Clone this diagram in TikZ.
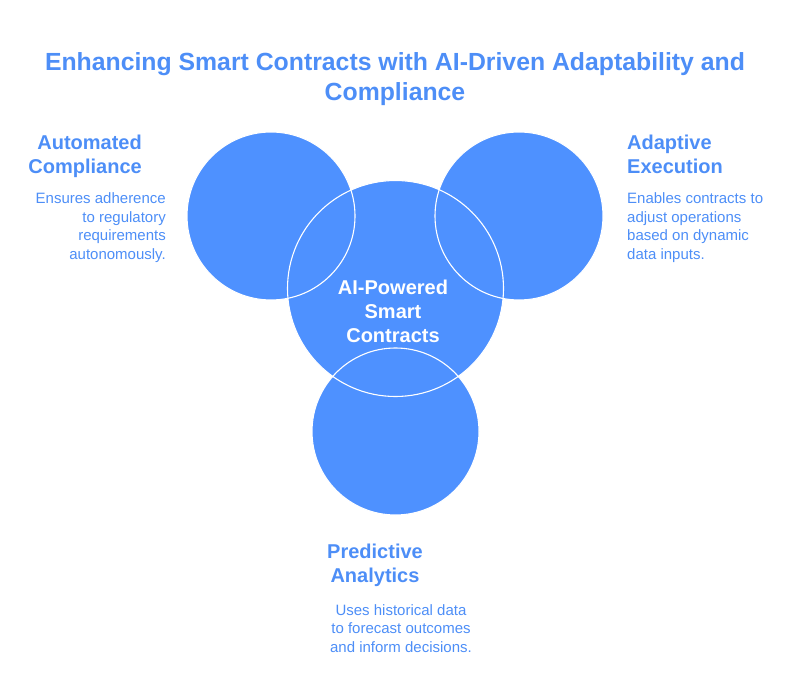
\documentclass[tikz,border=0pt]{standalone}
\usepackage{fontspec}
\setmainfont{Liberation Sans}
\definecolor{cfill}{RGB}{78,145,255}
\definecolor{ctext}{RGB}{77,142,247}
\begin{document}
\begin{tikzpicture}[x=1pt,y=-1pt,
  blob/.style={fill=cfill},
  rim/.style={draw=white,line width=1.1pt},
  heading/.style={inner sep=0pt,text=ctext,font=\fontsize{20}{24}\selectfont\bfseries},
  desc/.style={inner sep=0pt,text=ctext,font=\fontsize{15}{18.5}\selectfont},
  titletext/.style={inner sep=0pt,text=ctext,font=\fontsize{24.8}{30}\selectfont\bfseries,align=center}]
\useasboundingbox (0,0) rectangle (792,684);
% circles
\fill[blob] (271,216) circle (84);
\fill[blob] (519,216) circle (84);
\fill[blob] (395.5,431.5) circle (83.5);
\fill[blob] (395.5,288.5) circle (108);
\draw[rim] (271,216) circle (84);
\draw[rim] (519,216) circle (84);
\draw[rim] (395.5,431.5) circle (83.5);
\draw[rim] (395.5,288.5) circle (108);
% texts
\node[titletext] (title) at (395,79.5) {Enhancing Smart Contracts with AI-Driven Adaptability and\\Compliance};
\node[heading,align=center,text=white] (core) at (393,311) {AI-Powered\\Smart\\Contracts};
\node[heading,align=right,anchor=east] (h1) at (142,156) {Automated\\Compliance};
\node[desc,align=right,anchor=east] (d1) at (166,227.5) {Ensures adherence\\to regulatory\\requirements\\autonomously.};
\node[heading,align=left,anchor=west] (h2) at (627,154) {Adaptive\\Execution};
\node[desc,align=left,anchor=west] (d2) at (627,227.5) {Enables contracts to\\adjust operations\\based on dynamic\\data inputs.};
\node[heading,align=center] (h3) at (375,565) {Predictive\\Analytics};
\node[desc,align=center] (d3) at (401,628.5) {Uses historical data\\to forecast outcomes\\and inform decisions.};
\end{tikzpicture}
\end{document}
